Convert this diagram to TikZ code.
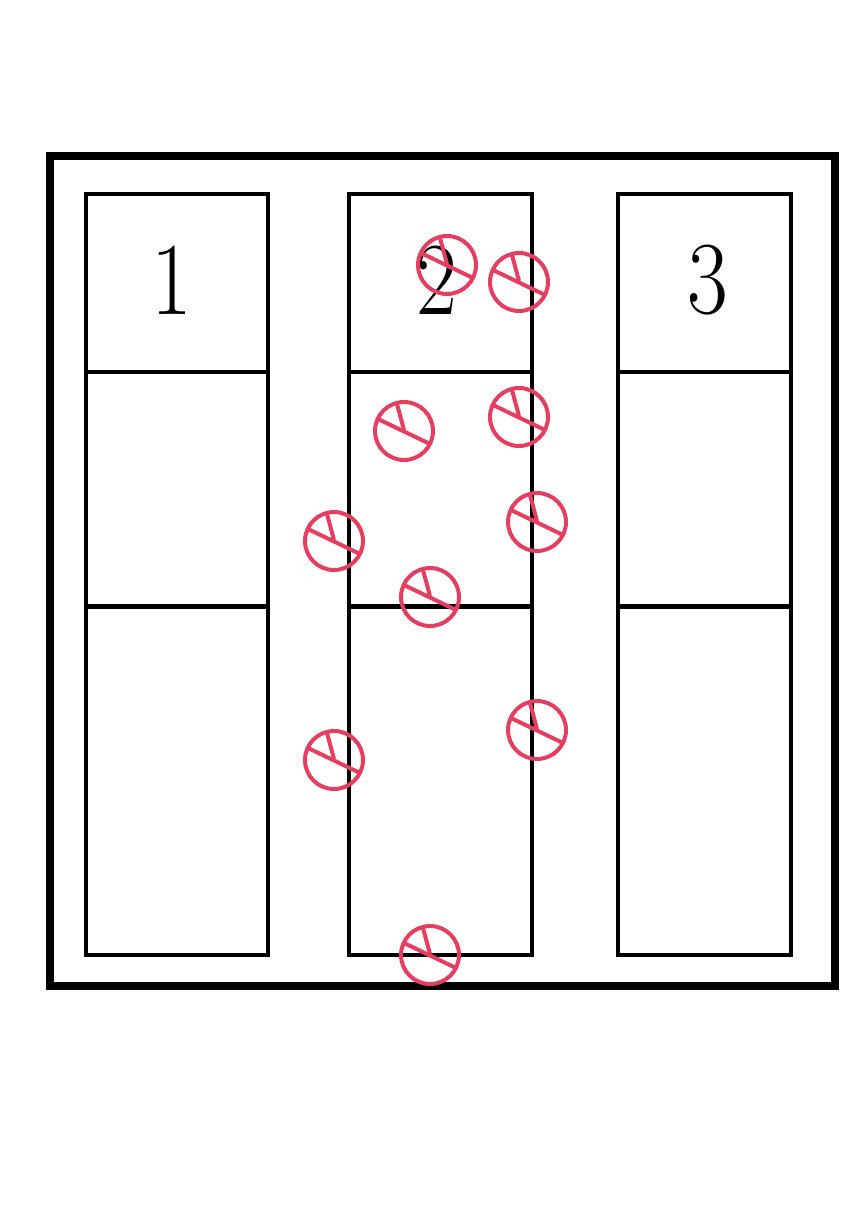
\documentclass[tikz,border=0pt]{standalone}
\usepackage{tikz}
\usepackage{xcolor}
\definecolor{markred}{HTML}{E43F60}

\begin{document}
\begin{tikzpicture}[
            x=1pt, y=-1pt,
            framebox/.style={color=black, line width=8pt},
            columnbox/.style={color=black, line width=4.6pt},
            digitnode/.style={align=center, color=black, font=\fontsize{108}{108}\selectfont},
            markline/.style={color=markred, line width=4pt}
        ]
            \useasboundingbox (0, 0) rectangle (860, 1214);

            % outer frame
            \draw[framebox] (50, 156) rectangle (835, 986);

            % columns and their rows
            \foreach \xl/\xr in {86/268, 349/532, 618/791}{
                \draw[columnbox] (\xl, 194) rectangle (\xr, 955);
                \draw[columnbox] (\xl, 372) -- (\xr, 372);
                \draw[columnbox] (\xl, 606.5) -- (\xr, 606.5);
            }

            % column numbers
            \node[digitnode] (first) at (172, 280) {\scalebox{.82}[.96]{1}};
            \node[digitnode] (second) at (437, 280) {\scalebox{.82}[.96]{2}};
            \node[digitnode] (third) at (708, 280) {\scalebox{.82}[.96]{3}};

            % red marks
            \foreach \x/\y in {447/265, 519/282, 404/431, 519/417, 537/522,
                               334/541, 430/597, 537/730, 334/760, 430/955}{
                \draw[markline] (\x, \y) circle (29);
                \draw[markline] (\x-26, \y-12) -- (\x+26, \y+13);
                \draw[markline] (\x-7, \y-27) -- (\x, \y-1);
            }

        \end{tikzpicture}
\end{document}
